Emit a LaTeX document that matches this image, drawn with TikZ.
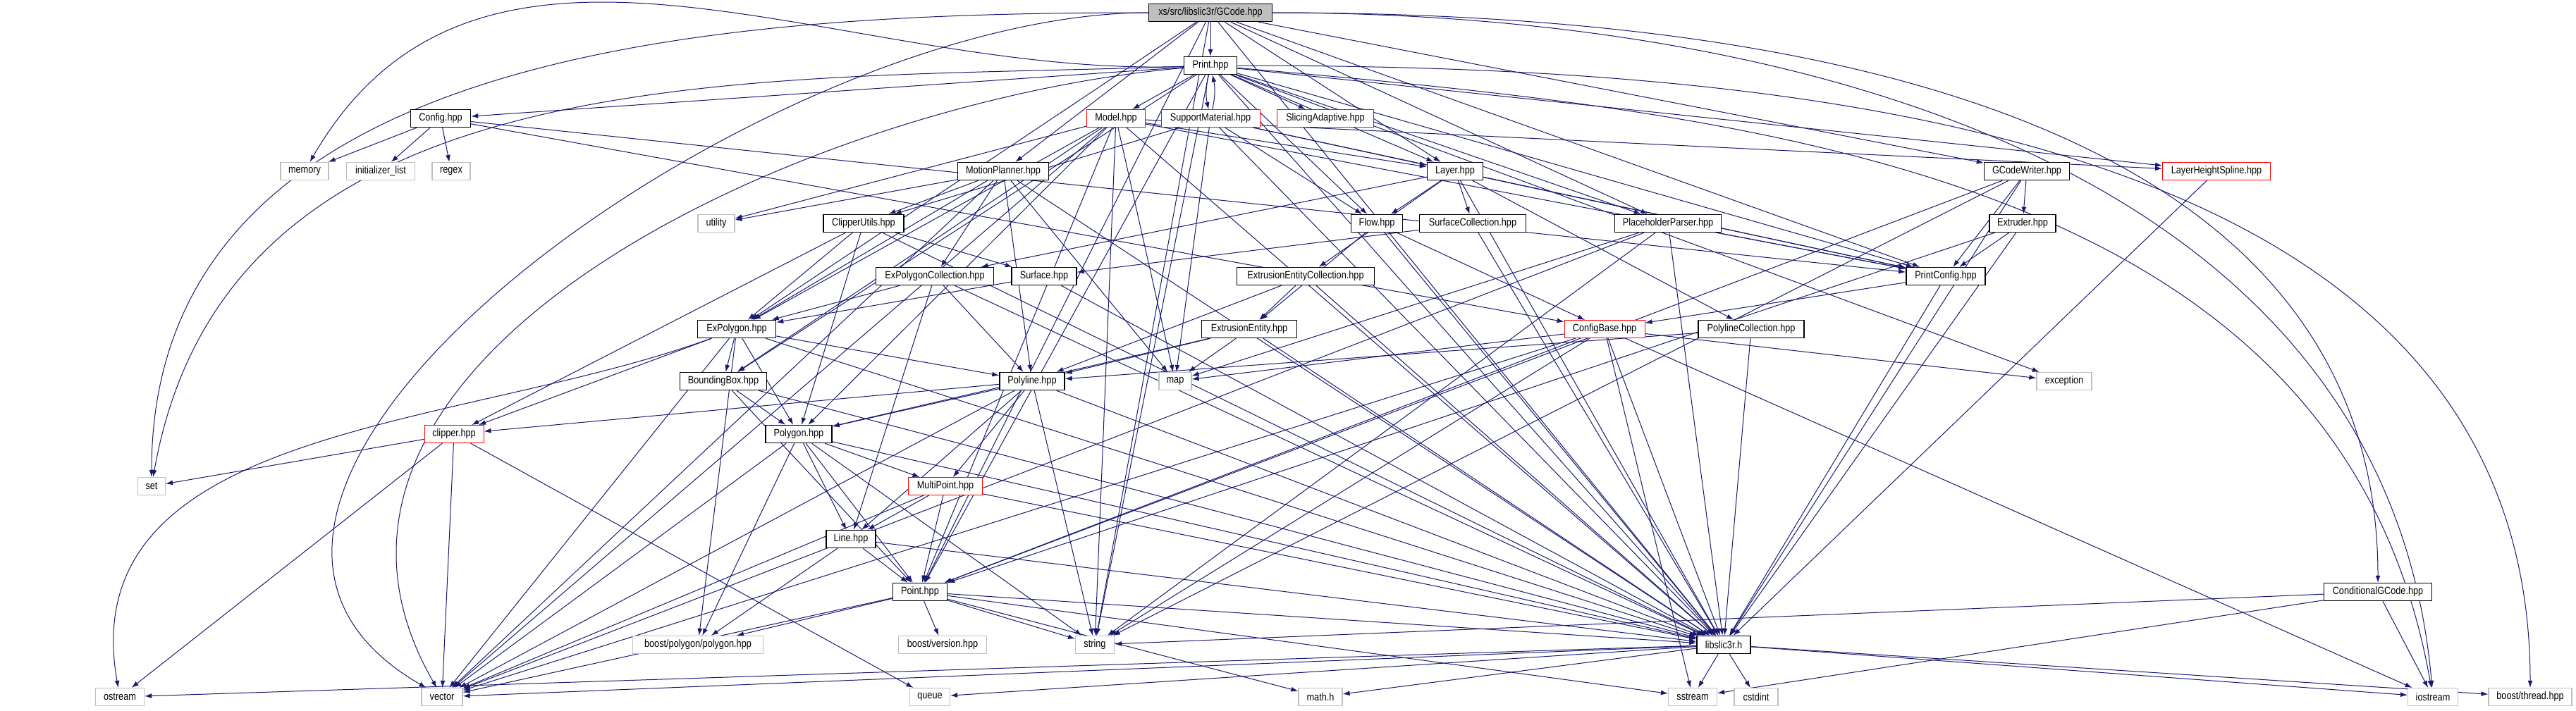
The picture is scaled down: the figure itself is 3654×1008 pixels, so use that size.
\documentclass[tikz,border=0pt]{standalone}
\usepackage{fontspec}
\setmainfont{Liberation Sans}[FakeStretch=0.85]
\usetikzlibrary{arrows.meta,backgrounds}
\definecolor{edgeblue}{HTML}{191970}
\definecolor{sysgray}{HTML}{BFBFBF}
\tikzset{
  hdr/.style={draw=black, line width=0.15mm, fill=white, inner sep=0pt,
    minimum height=2.5mm, font=\fontsize{4.25}{5}\selectfont},
  hidden/.style={hdr, draw=red, line width=0.1mm},
  sys/.style={hdr, draw=sysgray, line width=0.12mm},
  dep/.style={draw=edgeblue, line width=0.1mm, -{Latex[length=1mm,width=0.7mm]}},
}
\begin{document}
\begin{tikzpicture}[x=0.1mm,y=-0.1mm]
  \useasboundingbox (0,0) rectangle (3654,1008);
  % top
  \node[hdr, fill=sysgray, minimum width=17.5mm] (gcode) at (1717,18) {xs/src/libslic3r/GCode.hpp};
  \node[hdr, minimum width=7.5mm] (print) at (1717,93) {Print.hpp};
  % rank 3
  \node[hdr, minimum width=8.5mm] (config) at (625,168) {Config.hpp};
  \node[hidden, minimum width=8.3mm] (model) at (1583,168) {Model.hpp};
  \node[hidden, minimum width=14mm] (support) at (1717,168) {SupportMaterial.hpp};
  \node[hidden, minimum width=13.7mm] (slicing) at (1880,168) {SlicingAdaptive.hpp};
  % rank 4
  \node[sys, minimum width=6.8mm] (memory) at (432,243) {memory};
  \node[sys, minimum width=9.7mm] (initlist) at (540,243) {initializer\_list};
  \node[sys, minimum width=5.4mm] (regex) at (640,243) {regex};
  \node[hdr, minimum width=12.9mm] (motion) at (1423,243) {MotionPlanner.hpp};
  \node[hdr, minimum width=7.9mm] (layer) at (2064,243) {Layer.hpp};
  \node[hdr, minimum width=12.1mm] (gcodewriter) at (2875,243) {GCodeWriter.hpp};
  \node[hidden, minimum width=15.3mm] (lhspline) at (3144,243) {LayerHeightSpline.hpp};
  % rank 5
  \node[sys, minimum width=5.2mm] (utility) at (1016,317) {utility};
  \node[hdr, minimum width=11.4mm] (clipperutils) at (1225,317) {ClipperUtils.hpp};
  \node[hdr, minimum width=7.3mm] (flow) at (1953,317) {Flow.hpp};
  \node[hdr, minimum width=15.1mm] (surfcoll) at (2089,317) {SurfaceCollection.hpp};
  \node[hdr, minimum width=15.1mm] (placeholder) at (2366,317) {PlaceholderParser.hpp};
  \node[hdr, minimum width=9.4mm] (extruder) at (2869,317) {Extruder.hpp};
  % rank 6
  \node[hdr, minimum width=16.7mm] (expolycoll) at (1326,392) {ExPolygonCollection.hpp};
  \node[hdr, minimum width=9.2mm] (surface) at (1481,392) {Surface.hpp};
  \node[hdr, minimum width=19.5mm] (eecoll) at (1852,392) {ExtrusionEntityCollection.hpp};
  \node[hdr, minimum width=11.2mm] (printconfig) at (2760,392) {PrintConfig.hpp};
  % rank 7
  \node[hdr, minimum width=11.1mm] (expolygon) at (1045,467) {ExPolygon.hpp};
  \node[hdr, minimum width=13.5mm] (eentity) at (1772,467) {ExtrusionEntity.hpp};
  \node[hidden, minimum width=11.4mm] (configbase) at (2276,467) {ConfigBase.hpp};
  \node[hdr, minimum width=15mm] (polycoll) at (2484,467) {PolylineCollection.hpp};
  % rank 8
  \node[hdr, minimum width=12.3mm] (bbox) at (1026,541) {BoundingBox.hpp};
  \node[hdr, minimum width=9.2mm] (polyline) at (1464,541) {Polyline.hpp};
  \node[sys, minimum width=4.6mm] (map) at (1667,541) {map};
  \node[sys, minimum width=7.8mm] (exception) at (2928,541) {exception};
  % rank 9
  \node[hidden, minimum width=8.4mm] (clipper) at (644,616) {clipper.hpp};
  \node[hdr, minimum width=9.4mm] (polygon) at (1133,616) {Polygon.hpp};
  % rank 10
  \node[sys, minimum width=3.9mm] (set) at (215,690) {set};
  \node[hidden, minimum width=10.5mm] (multipoint) at (1341,690) {MultiPoint.hpp};
  \node[hdr, minimum width=7mm] (line) at (1207,765) {Line.hpp};
  \node[hdr, minimum width=7.7mm] (point) at (1305,840) {Point.hpp};
  \node[hdr, minimum width=15.3mm] (conditional) at (3373,840) {ConditionalGCode.hpp};
  % rank 13
  \node[sys, minimum width=18.5mm] (bpolygon) at (990,915) {boost/polygon/polygon.hpp};
  \node[sys, minimum width=12.5mm] (bversion) at (1337,915) {boost/version.hpp};
  \node[sys, minimum width=5.5mm] (string) at (1553,915) {string};
  \node[hdr, minimum width=7.6mm] (libslic3r) at (2445,915) {libslic3r.h};
  % bottom
  \node[sys, minimum width=6.9mm] (ostream) at (170,989) {ostream};
  \node[sys, minimum width=5.8mm] (vector) at (627,989) {vector};
  \node[sys, minimum width=5.7mm] (queue) at (1319,989) {queue};
  \node[sys, minimum width=6.2mm] (mathh) at (1873,989) {math.h};
  \node[sys, minimum width=6.9mm] (sstream) at (2401,989) {sstream};
  \node[sys, minimum width=6.2mm] (cstdint) at (2491,989) {cstdint};
  \node[sys, minimum width=7.1mm] (iostream) at (3451,989) {iostream};
  \node[sys, minimum width=11.8mm] (bthread) at (3589,989) {boost/thread.hpp};

  \begin{scope}[on background layer]
  % GCode.hpp
  \path (gcode) edge[dep] (print) edge[dep] (motion) edge[dep] (expolygon)
    edge[dep] (point) edge[dep, out=180, in=90] (set)
    edge[dep, out=180, in=150] (vector) edge[dep] (string)
    edge[dep] (layer) edge[dep] (placeholder) edge[dep] (printconfig)
    edge[dep] (gcodewriter) edge[dep] (libslic3r)
    edge[dep, out=0, in=90] (conditional) edge[dep, out=0, in=95] (iostream);
  % Print.hpp
  \path (print) edge[dep] (model) edge[dep, bend right=12] (support)
    edge[dep] (slicing) edge[dep] (layer) edge[dep] (flow)
    edge[dep] (placeholder) edge[dep] (printconfig) edge[dep] (lhspline)
    edge[dep] (libslic3r) edge[dep] (bbox) edge[dep] (point)
    edge[dep] (config) edge[dep, out=182, in=60] (memory)
    edge[dep, out=182, in=80] (set) edge[dep, out=185, in=120] (vector)
    edge[dep] (string) edge[dep] (exception)
    edge[dep, out=-5, in=100] (iostream) edge[dep, out=0, in=90] (bthread);
  % SupportMaterial.hpp
  \path (support) edge[dep, bend right=12] (print) edge[dep] (layer)
    edge[dep] (flow) edge[dep] (clipperutils) edge[dep] (printconfig)
    edge[dep] (libslic3r) edge[dep] (map);
  % Model.hpp
  \path (model) edge[dep] (layer) edge[dep] (printconfig) edge[dep] (lhspline)
    edge[dep] (bbox) edge[dep] (point) edge[dep] (polygon)
    edge[dep] (expolygon) edge[dep] (libslic3r) edge[dep] (map)
    edge[dep] (string) edge[dep] (utility) edge[dep] (vector);
  % Config.hpp
  \path (config) edge[dep] (memory) edge[dep] (initlist) edge[dep] (regex)
    edge[dep] (printconfig) edge[dep] (configbase);
  % MotionPlanner.hpp
  \path (motion) edge[dep] (utility) edge[dep] (clipperutils)
    edge[dep] (expolycoll) edge[dep] (polyline) edge[dep] (map)
    edge[dep] (libslic3r) edge[dep] (vector) edge[dep] (expolygon);
  % Layer.hpp
  \path (layer) edge[dep] (flow) edge[dep] (surfcoll) edge[dep] (eecoll)
    edge[dep] (expolycoll) edge[dep] (polycoll) edge[dep] (printconfig)
    edge[dep] (libslic3r);
  % GCodeWriter.hpp, Extruder.hpp, LayerHeightSpline.hpp
  \path (gcodewriter) edge[dep] (extruder) edge[dep] (printconfig)
    edge[dep] (point) edge[dep] (libslic3r) edge[dep] (string);
  \path (extruder) edge[dep] (printconfig) edge[dep] (point) edge[dep] (libslic3r);
  \path (lhspline) edge[dep] (libslic3r);
  % ClipperUtils.hpp
  \path (clipperutils) edge[dep] (clipper) edge[dep] (expolygon)
    edge[dep] (polygon) edge[dep] (surface) edge[dep] (libslic3r);
  % Flow.hpp, SurfaceCollection.hpp, PlaceholderParser.hpp
  \path (flow) edge[dep] (eentity) edge[dep] (configbase) edge[dep] (libslic3r);
  \path (surfcoll) edge[dep] (surface) edge[dep] (libslic3r);
  \path (placeholder) edge[dep] (printconfig) edge[dep] (map) edge[dep] (string)
    edge[dep] (vector) edge[dep] (libslic3r);
  % collections
  \path (expolycoll) edge[dep] (expolygon) edge[dep] (line) edge[dep] (polyline)
    edge[dep] (libslic3r);
  \path (surface) edge[dep] (expolygon) edge[dep] (libslic3r);
  \path (eecoll) edge[dep] (eentity) edge[dep] (polyline) edge[dep] (libslic3r);
  \path (printconfig) edge[dep] (configbase) edge[dep] (libslic3r);
  % ExPolygon.hpp
  \path (expolygon) edge[dep] (bbox) edge[dep] (polygon) edge[dep] (polyline)
    edge[dep] (libslic3r) edge[dep] (vector) edge[dep, out=200, in=100] (ostream)
    edge[dep] (bpolygon) edge[dep] (clipper);
  \path (eentity) edge[dep] (polygon) edge[dep] (polyline) edge[dep] (map)
    edge[dep] (libslic3r);
  % ConfigBase.hpp
  \path (configbase) edge[dep] (libslic3r) edge[dep] (point) edge[dep] (map)
    edge[dep] (vector) edge[dep] (string) edge[dep] (exception)
    edge[dep] (iostream) edge[dep] (sstream);
  \path (polycoll) edge[dep] (polyline) edge[dep] (libslic3r);
  \path (bbox) edge[dep] (polygon) edge[dep] (point) edge[dep] (libslic3r);
  % Polyline.hpp, Polygon.hpp
  \path (polyline) edge[dep] (polygon) edge[dep] (line) edge[dep] (multipoint)
    edge[dep] (libslic3r) edge[dep] (string) edge[dep] (vector)
    edge[dep] (clipper);
  \path (polygon) edge[dep] (line) edge[dep] (multipoint) edge[dep] (libslic3r)
    edge[dep] (vector) edge[dep] (string) edge[dep] (bpolygon) edge[dep] (point);
  \path (clipper) edge[dep] (set) edge[dep] (ostream) edge[dep] (vector)
    edge[dep] (queue);
  \path (multipoint) edge[dep] (line) edge[dep] (point) edge[dep] (libslic3r)
    edge[dep] (vector);
  \path (line) edge[dep] (point) edge[dep] (libslic3r) edge[dep] (bpolygon);
  % Point.hpp
  \path (point) edge[dep] (libslic3r) edge[dep] (vector) edge[dep] (string)
    edge[dep] (sstream) edge[dep] (mathh) edge[dep] (bversion)
    edge[dep] (bpolygon);
  % libslic3r.h
  \path (libslic3r) edge[dep] (ostream) edge[dep] (vector) edge[dep] (mathh)
    edge[dep] (queue) edge[dep] (sstream) edge[dep] (cstdint)
    edge[dep] (iostream) edge[dep] (bthread);
  \path (conditional) edge[dep] (string) edge[dep] (iostream) edge[dep] (sstream);
  \end{scope}
\end{tikzpicture}
\end{document}
